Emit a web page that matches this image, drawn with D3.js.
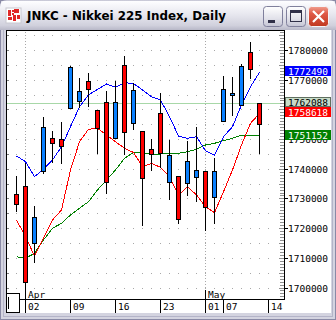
<!DOCTYPE html>
<html><head><meta charset="utf-8">
<script src="https://cdn.jsdelivr.net/npm/d3@7"></script>
<style>html,body{margin:0;padding:0;background:#fff;overflow:hidden}svg{display:block}</style>
</head><body>
<script>
const title = "JNKC - Nikkei 225 Index, Daily";
const dates = ["03/30","04/02","04/03","04/04","04/05","04/06","04/09","04/10","04/11","04/12","04/13",
  "04/16","04/17","04/18","04/19","04/20","04/23","04/24","04/25","04/26","04/27",
  "05/01","05/02","05/07","05/08","05/09","05/10","05/11"];
const open  = [1728130,1701860,1723750,1754070,1748680,1747670,1774270,1766190,1766870,1753730,1735540,
  1762490,1752380,1766530,1736890,1744970,1745310,1744640,1723080,1742620,1739580,
  1727120,1739250,1766870,1765520,1774610,1773600,1755080];
const high  = [1737560,1741940,1727460,1757430,1752720,1755750,1774610,1770570,1772250,1759790,1766190,
  1769560,1777980,1768890,1752720,1750030,1765520,1749690,1737560,1749350,1754070,
  1739250,1743630,1771240,1770910,1775290,1782690,1762088];
const low   = [1725780,1699170,1708600,1738570,1742280,1741940,1760470,1760800,1761140,1745310,1731840,
  1750360,1744970,1753390,1721060,1739580,1740590,1729820,1721730,1731160,1729140,
  1719380,1721730,1756090,1758110,1761480,1770570,1745310];
const close = [1731500,1734200,1715000,1739250,1750360,1750030,1760470,1762820,1769560,1759790,1762490,
  1750360,1774950,1755410,1752720,1746660,1758780,1735540,1737560,1735210,1737230,
  1739250,1730490,1756090,1764840,1761480,1779330,1762088];
const maBlue  = [1744300,1742380,1737330,1739820,1742950,1747430,1754170,1760900,1764840,1766760,1768550,
  1767440,1768990,1768720,1766530,1764270,1763160,1757540,1751030,1750260,1750800,
  1746080,1744540,1750800,1754170,1761480,1767640,1772490];
const maRed   = [1722740,1717120,1710620,1716580,1722740,1726110,1739580,1749120,1753290,1753630,1751370,
  1749120,1746890,1745480,1740700,1741840,1740490,1737330,1731160,1733960,1731160,
  1727220,1725200,1732280,1739580,1748000,1755310,1758618];
const maGreen = [1710380,1709840,1711530,1716010,1719950,1721630,1724430,1726680,1728910,1732850,1736220,
  1739580,1743520,1745550,1745210,1744970,1744970,1745210,1745210,1745750,1746560,
  1748000,1748580,1749450,1750260,1751270,1751270,1751152];
const yTicks = [1700000,1710000,1720000,1730000,1740000,1750000,1760000,1770000,1780000];
const dayTicks = ["04/02","04/09","04/16","04/23","05/01","05/07","05/14"];
const dayTickLabels = ["02","09","16","23","01","07","14"];
const monthTicks = ["04/02","05/01"];
const monthLabels = ["Apr","May"];

const W = 336, H = 320;
const MONO = "'DejaVu Sans Mono', monospace";
const idx = d => { const k = dates.indexOf(d); return k < 0 ? dates.length : k; };
const x = d3.scaleLinear().domain([0, dates.length]).range([16, 268]);
const y = d3.scaleLinear().domain([1696130, 1786400]).range([299, 31]);
const fmt = d3.format("d");

const svg = d3.select("body").append("svg").attr("width", W).attr("height", H);
const defs = svg.append("defs");
function grad(id, stops) {
  const g = defs.append("linearGradient").attr("id", id).attr("x1",0).attr("y1",0).attr("x2",0).attr("y2",1);
  stops.forEach(s => g.append("stop").attr("offset", s[0]).attr("stop-color", s[1]));
}
grad("tg", [[0,"#b0b0c4"],[0.05,"#fdfdff"],[0.5,"#e6e6ee"],[0.85,"#d0d0dc"],[1,"#b8b8c8"]]);
grad("bg", [[0,"#ffffff"],[0.6,"#e2e2ea"],[1,"#c4c4d4"]]);
grad("cg", [[0,"#f0a090"],[0.35,"#e05a48"],[1,"#c03820"]]);

// window frame
svg.append("rect").attr("width", W).attr("height", H).attr("fill", "#d4d4e0");
svg.append("rect").attr("x",0.5).attr("y",0.5).attr("width",W-1).attr("height",H-1).attr("fill","none").attr("stroke","#8a8aa6");
svg.append("rect").attr("x",3.5).attr("y",28.5).attr("width",W-7).attr("height",H-32).attr("fill","none").attr("stroke","#b4b4c8");
svg.append("path").attr("d","M0,30 L0,7 Q0,0 7,0 L329,0 Q336,0 336,7 L336,30 Z").attr("fill","url(#tg)");

// icon
const ic = svg.append("g");
ic.append("rect").attr("x",6).attr("y",8).attr("width",15).attr("height",15).attr("fill","#ffffff").attr("stroke","#c8c8d0");
[[8,10,3,6],[12,10,2,2],[14,9,5,4],[8,17,4,3],[13,15,3,6],[17,15,3,4],[12,13,2,2]].forEach(r =>
  ic.append("rect").attr("x",r[0]).attr("y",r[1]).attr("width",r[2]).attr("height",r[3]).attr("fill","#e02828"));

svg.append("text").attr("x",27).attr("y",20).attr("textLength",199).attr("lengthAdjust","spacingAndGlyphs")
  .attr("font-family","'DejaVu Sans', sans-serif").attr("font-weight","bold").attr("font-size",12).attr("fill","#000").text(title);

// buttons
[263.5, 286.5].forEach(bx => svg.append("rect").attr("x",bx).attr("y",6.5).attr("width",19).attr("height",20).attr("rx",3)
  .attr("fill","url(#bg)").attr("stroke","#80809c"));
svg.append("rect").attr("x",268).attr("y",20).attr("width",7).attr("height",3).attr("fill","#303048");
svg.append("rect").attr("x",290.5).attr("y",10.5).attr("width",11).attr("height",11).attr("fill","none").attr("stroke","#303048");
svg.append("rect").attr("x",290).attr("y",10).attr("width",12).attr("height",3).attr("fill","#303048");
svg.append("rect").attr("x",308.5).attr("y",6.5).attr("width",20).attr("height",20).attr("rx",3).attr("fill","url(#cg)").attr("stroke","#f4f4f8");
svg.append("path").attr("d","M313,11 L324,22 M324,11 L313,22").attr("stroke","#fff").attr("stroke-width",2.2);

// client area
svg.append("rect").attr("x",6).attr("y",30).attr("width",325).attr("height",283).attr("fill","#fff");

const crisp = g => g.attr("shape-rendering","crispEdges");

// grid dots
const grid = svg.append("g").call(crisp);
for (let v = 1700000; v <= 1785000; v += 5000) {
  const gy = Math.round(y(v));
  for (let i = -1; i <= dates.length; i++) {
    grid.append("rect").attr("x", x(i)).attr("y", gy).attr("width",1).attr("height",1).attr("fill","#a8a8a8");
  }
  grid.append("rect").attr("x",7).attr("y",gy).attr("width",2).attr("height",1).attr("fill","#808080");
}
monthTicks.forEach(d => {
  for (let gy = 32; gy < 299; gy += 3)
    grid.append("rect").attr("x", x(idx(d))).attr("y", gy).attr("width",1).attr("height",1).attr("fill","#a8a8a8");
});

// last close line
const lc = Math.round(y(close[close.length-1])) + 0.5;
svg.append("line").attr("x1",7).attr("x2",285).attr("y1",lc).attr("y2",lc).attr("stroke","#a8d8a8").call(crisp);

// moving averages
const line = d3.line().x((d,i) => x(i) + 0.5).y(d => y(d));
[[maGreen,"#008000"],[maRed,"#ff0000"],[maBlue,"#0000ff"]].forEach(([arr,col]) =>
  svg.append("path").attr("d", line(arr)).attr("fill","none").attr("stroke",col).attr("stroke-width",1).call(crisp));

// candles
const cg = svg.append("g").call(crisp);
dates.forEach((d,i) => {
  const xi = x(i), o = open[i], c = close[i];
  cg.append("line").attr("x1",xi+0.5).attr("x2",xi+0.5)
    .attr("y1",Math.round(y(high[i]))).attr("y2",Math.round(y(low[i]))+1).attr("stroke","#000");
  const top = Math.round(y(Math.max(o,c))), bot = Math.round(y(Math.min(o,c)));
  cg.append("rect").attr("x",xi-1.5).attr("y",top+0.5).attr("width",4).attr("height",Math.max(bot-top,1))
    .attr("fill", c >= o ? "#ff0000" : "#0a80ff").attr("stroke","#000");
});

// borders & axis
const ax = svg.append("g").call(crisp).attr("stroke","#000");
ax.append("line").attr("x1",6).attr("x2",285).attr("y1",30.5).attr("y2",30.5);
ax.append("line").attr("x1",6.5).attr("x2",6.5).attr("y1",30).attr("y2",313);
ax.append("line").attr("x1",284.5).attr("x2",284.5).attr("y1",30).attr("y2",300);
ax.append("line").attr("x1",19).attr("x2",285).attr("y1",299.5).attr("y2",299.5);
ax.append("rect").attr("x",6.5).attr("y",293.5).attr("width",13).attr("height",19).attr("fill","#fff");
ax.append("line").attr("x1",8.5).attr("x2",8.5).attr("y1",297).attr("y2",309);

// y ticks
for (let v = 1697000; v <= 1786000; v += 1000) {
  const ty = Math.round(y(v)) + 0.5;
  if (ty > 299) continue;
  ax.append("line").attr("x1", v % 5000 === 0 ? 279 : 280).attr("x2",284).attr("y1",ty).attr("y2",ty).attr("stroke","#909090");
}
yTicks.forEach(v => {
  const ty = Math.round(y(v)) + 0.5;
  ax.append("line").attr("x1",284).attr("x2",288).attr("y1",ty).attr("y2",ty);
  svg.append("text").attr("x",288).attr("y",Math.round(y(v))+3.5).attr("font-family",MONO).attr("font-size",9.5)
    .attr("fill","#000").text(fmt(v));
});

// x ticks
dayTicks.forEach((d,k) => {
  const tx = x(idx(d)) + 0.5;
  ax.append("line").attr("x1",tx).attr("x2",tx).attr("y1",299).attr("y2",313);
  svg.append("text").attr("x",tx+2.5).attr("y",310).attr("font-family",MONO).attr("font-size",9.5).attr("fill","#000").text(dayTickLabels[k]);
});
monthTicks.forEach((d,k) => {
  const tx = x(idx(d)) + 0.5;
  ax.append("line").attr("x1",tx).attr("x2",tx).attr("y1",290).attr("y2",299);
  svg.append("text").attr("x",tx+2.5).attr("y",297.5).attr("font-family",MONO).attr("font-size",9.5).attr("fill","#000").text(monthLabels[k]);
});

// value tags
const tags = [
  [maBlue[maBlue.length-1], "#0000ff", "#fff", "#0000ff"],
  [close[close.length-1], "#c8dcc8", "#000", "#607060"],
  [maRed[maRed.length-1], "#ff0000", "#fff", "#ff0000"],
  [maGreen[maGreen.length-1], "#008000", "#fff", "#008000"]
];
tags.forEach(([v,bg,fg,bd]) => {
  const ty = Math.round(y(v));
  svg.append("rect").attr("x",285.5).attr("y",ty-5.5).attr("width",45).attr("height",9).attr("fill",bg).attr("stroke",bd).call(crisp);
  svg.append("text").attr("x",288).attr("y",ty+3).attr("font-family",MONO).attr("font-size",9.5).attr("fill",fg).text(fmt(v));
});
</script>
</body></html>
